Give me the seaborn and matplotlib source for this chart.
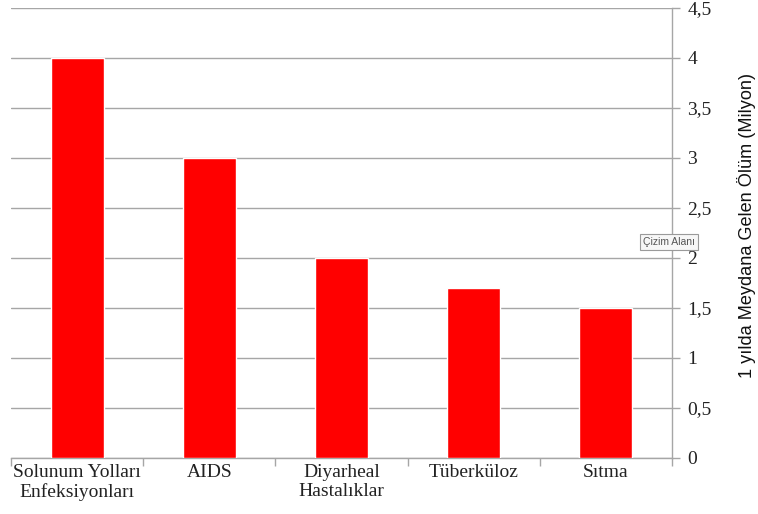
import matplotlib
matplotlib.use("Agg")
import matplotlib.pyplot as plt
import seaborn as sns
import pandas as pd
from matplotlib.ticker import FixedLocator, FuncFormatter

categories = ["Solunum Yolları\nEnfeksiyonları", "AIDS", "Diyarheal\nHastalıklar", "Tüberküloz", "Sıtma"]
values = [4.0, 3.0, 2.0, 1.7, 1.5]
yticks = [0, 0.5, 1, 1.5, 2, 2.5, 3, 3.5, 4, 4.5]

sns.set_theme(style="white")
plt.rcParams['font.family'] = ['Liberation Serif', 'DejaVu Serif']

df = pd.DataFrame({"cat": categories, "val": values})

fig = plt.figure(figsize=(7.58, 5.14), dpi=100)
ax = fig.add_axes([11/758, 1 - 458/514, (672 - 11)/758, (458 - 8)/514])

sns.barplot(data=df, x="cat", y="val", color="#ff0000", saturation=1, width=0.4, ax=ax, zorder=3)

ax.set_xlim(-0.5, 4.5)
ax.set_ylim(0, 4.5)
ax.yaxis.tick_right()
ax.yaxis.set_label_position("right")
ax.set_yticks(yticks)
ax.yaxis.set_major_formatter(FuncFormatter(lambda v, p: (f"{v:g}").replace(".", ",")))
ax.grid(axis="y", color="#a6a6a6", linewidth=1, zorder=0)
ax.set_axisbelow(True)

for s in ["top", "left"]:
    ax.spines[s].set_visible(False)
for s in ["bottom", "right"]:
    ax.spines[s].set_visible(True)
    ax.spines[s].set_color("#a6a6a6")
    ax.spines[s].set_linewidth(1)

ax.tick_params(axis="y", which="major", right=True, length=6, width=1, color="#a6a6a6",
               labelsize=14, pad=5, labelcolor="#222222")
ax.tick_params(axis="x", which="major", length=0, labelsize=14, pad=4, labelcolor="#222222")
ax.xaxis.set_minor_locator(FixedLocator([-0.5, 0.5, 1.5, 2.5, 3.5, 4.5]))
ax.tick_params(axis="x", which="minor", bottom=True, length=6, width=1, color="#a6a6a6")

ax.set_xlabel("")
ax.set_ylabel("1 yılda Meydana Gelen Ölüm (Milyon)", family=['Liberation Sans', 'DejaVu Sans'],
              fontsize=13.1, color="#111111")
ax.yaxis.set_label_coords(1.098, 0.5156)

fig.text(669/758, 1 - 242/514, "Çizim Alanı", family=['Liberation Sans', 'DejaVu Sans'], fontsize=7.5,
         color="#555555", ha="center", va="center",
         bbox=dict(boxstyle="square,pad=0.3", fc="#f7f7f7", ec="#9a9a9a", lw=0.8))

fig.savefig("out.png", dpi=100)
